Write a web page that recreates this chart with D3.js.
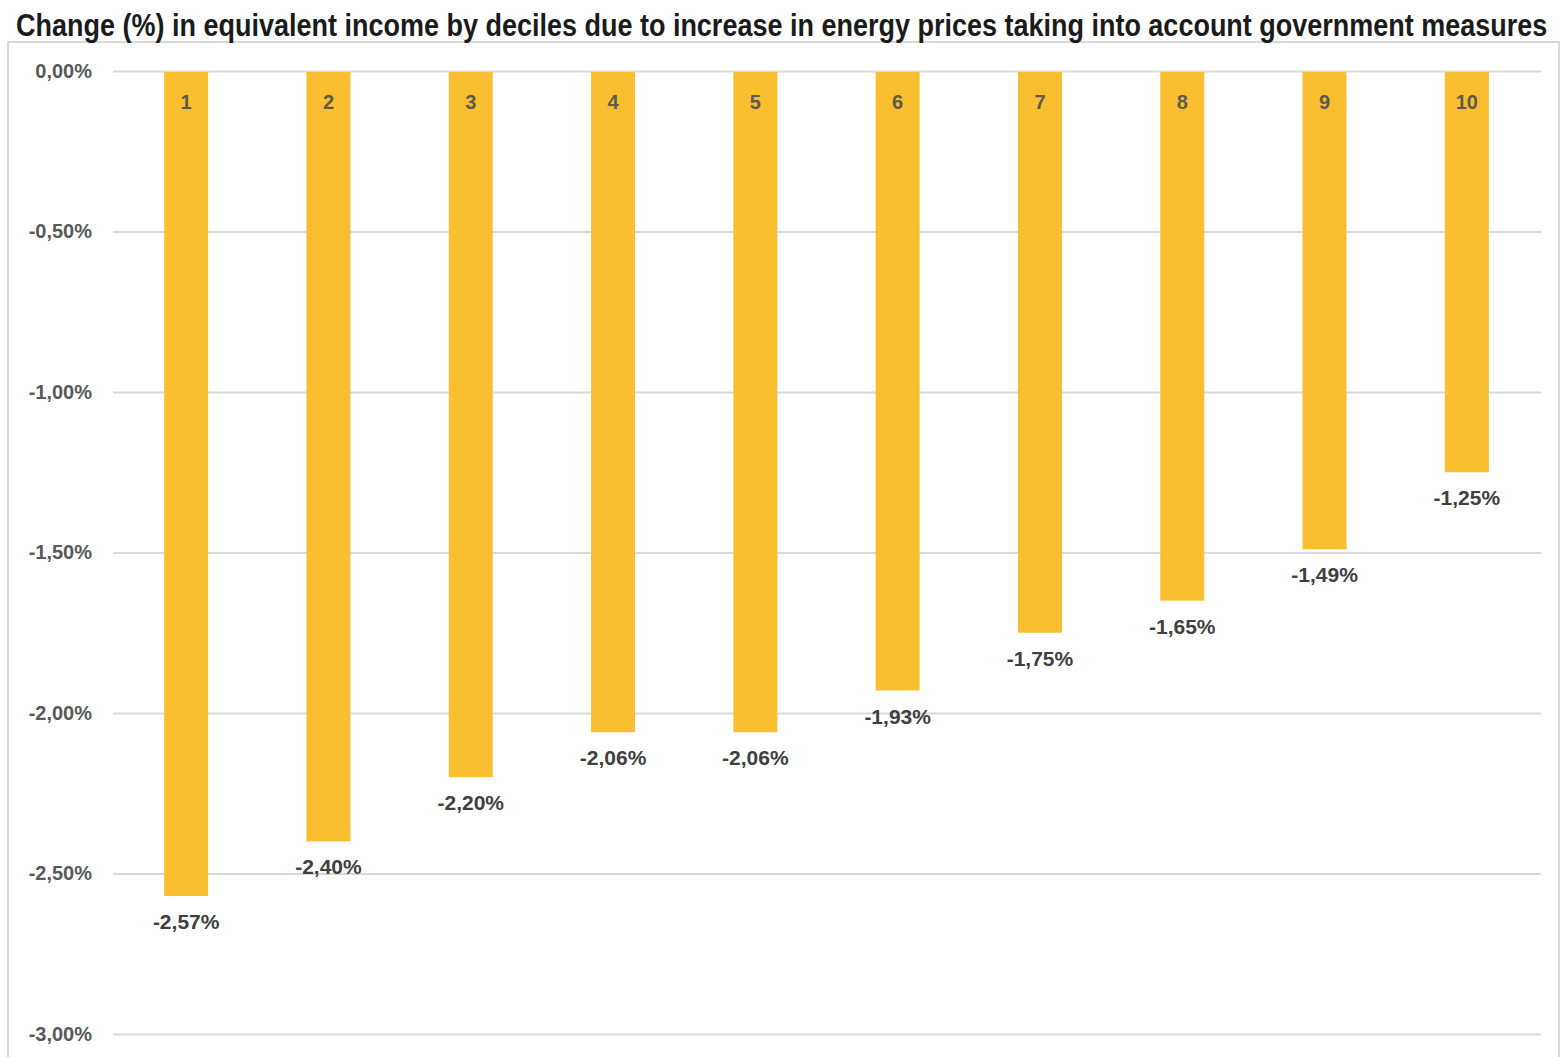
<!DOCTYPE html>
<html><head><meta charset="utf-8">
<script src="https://cdn.jsdelivr.net/npm/d3@7"></script>
<style>html,body{margin:0;padding:0;background:#fff;}</style>
</head><body>
<svg id="chart" width="1563" height="1057"></svg>
<script>
const titleText = "Change (%) in equivalent income by deciles due to increase in energy prices taking into account government measures";
const deciles = ["1","2","3","4","5","6","7","8","9","10"];
const values = [-2.57, -2.40, -2.20, -2.06, -2.06, -1.93, -1.75, -1.65, -1.49, -1.25];
const yTicks = [0, -0.5, -1, -1.5, -2, -2.5, -3];

const svg = d3.select("#chart");
const fmt = v => (v === 0 ? "0,00%" : d3.format(".2f")(v).replace("\u2212", "-").replace(".", ",") + "%");

// outer frame
svg.append("rect").attr("x", 8).attr("y", 42).attr("width", 1551).attr("height", 1030)
  .attr("fill", "none").attr("stroke", "#d9d9d9").attr("stroke-width", 2);

// title (condensed horizontally to fit the reference width)
const title = svg.append("text")
  .attr("font-family", "'Liberation Sans',Arial,sans-serif")
  .attr("font-weight", "bold").attr("font-size", 32).attr("fill", "#1b1b1b")
  .text(titleText);
const natural = title.node().getComputedTextLength();
const sx = 1532 / natural;
title.attr("transform", `translate(16,36) scale(${sx},1)`);

const x = d3.scaleBand().domain(deciles).range([115, 1538]).paddingInner(0.69).paddingOuter(0.345);
const y = d3.scaleLinear().domain([0, -3]).range([71, 1034]);

// gridlines
const grid = svg.append("g").attr("transform", "translate(113,0)")
  .call(d3.axisLeft(y).tickValues(yTicks).tickSize(-1428).tickFormat(fmt).tickPadding(21));
grid.select(".domain").remove();
grid.selectAll(".tick line").attr("stroke", "#d9d9d9").attr("stroke-width", 2);
grid.selectAll(".tick text").attr("font-family", "'Liberation Sans',Arial,sans-serif")
  .attr("font-weight", "bold").attr("font-size", 20).attr("fill", "#595959");

// bars
const bw = 44;
svg.append("g").selectAll("rect").data(values).join("rect")
  .attr("x", (d, i) => x(deciles[i]) + x.bandwidth() / 2 - bw / 2)
  .attr("width", bw)
  .attr("y", y(0) + 1)
  .attr("height", d => y(d) - y(0) - 1)
  .attr("fill", "#f9bf31");

// category labels inside bars
svg.append("g").selectAll("text").data(deciles).join("text")
  .attr("x", d => x(d) + x.bandwidth() / 2)
  .attr("y", 109)
  .attr("text-anchor", "middle")
  .attr("font-family", "'Liberation Sans',Arial,sans-serif")
  .attr("font-weight", "bold").attr("font-size", 20).attr("fill", "#5f5a4a")
  .text(d => d);

// value labels
svg.append("g").selectAll("text").data(values).join("text")
  .attr("x", (d, i) => x(deciles[i]) + x.bandwidth() / 2)
  .attr("y", d => y(d) + 33)
  .attr("text-anchor", "middle")
  .attr("font-family", "'Liberation Sans',Arial,sans-serif")
  .attr("font-weight", "bold").attr("font-size", 21).attr("fill", "#404040")
  .text(d => fmt(d));
</script>
</body></html>
